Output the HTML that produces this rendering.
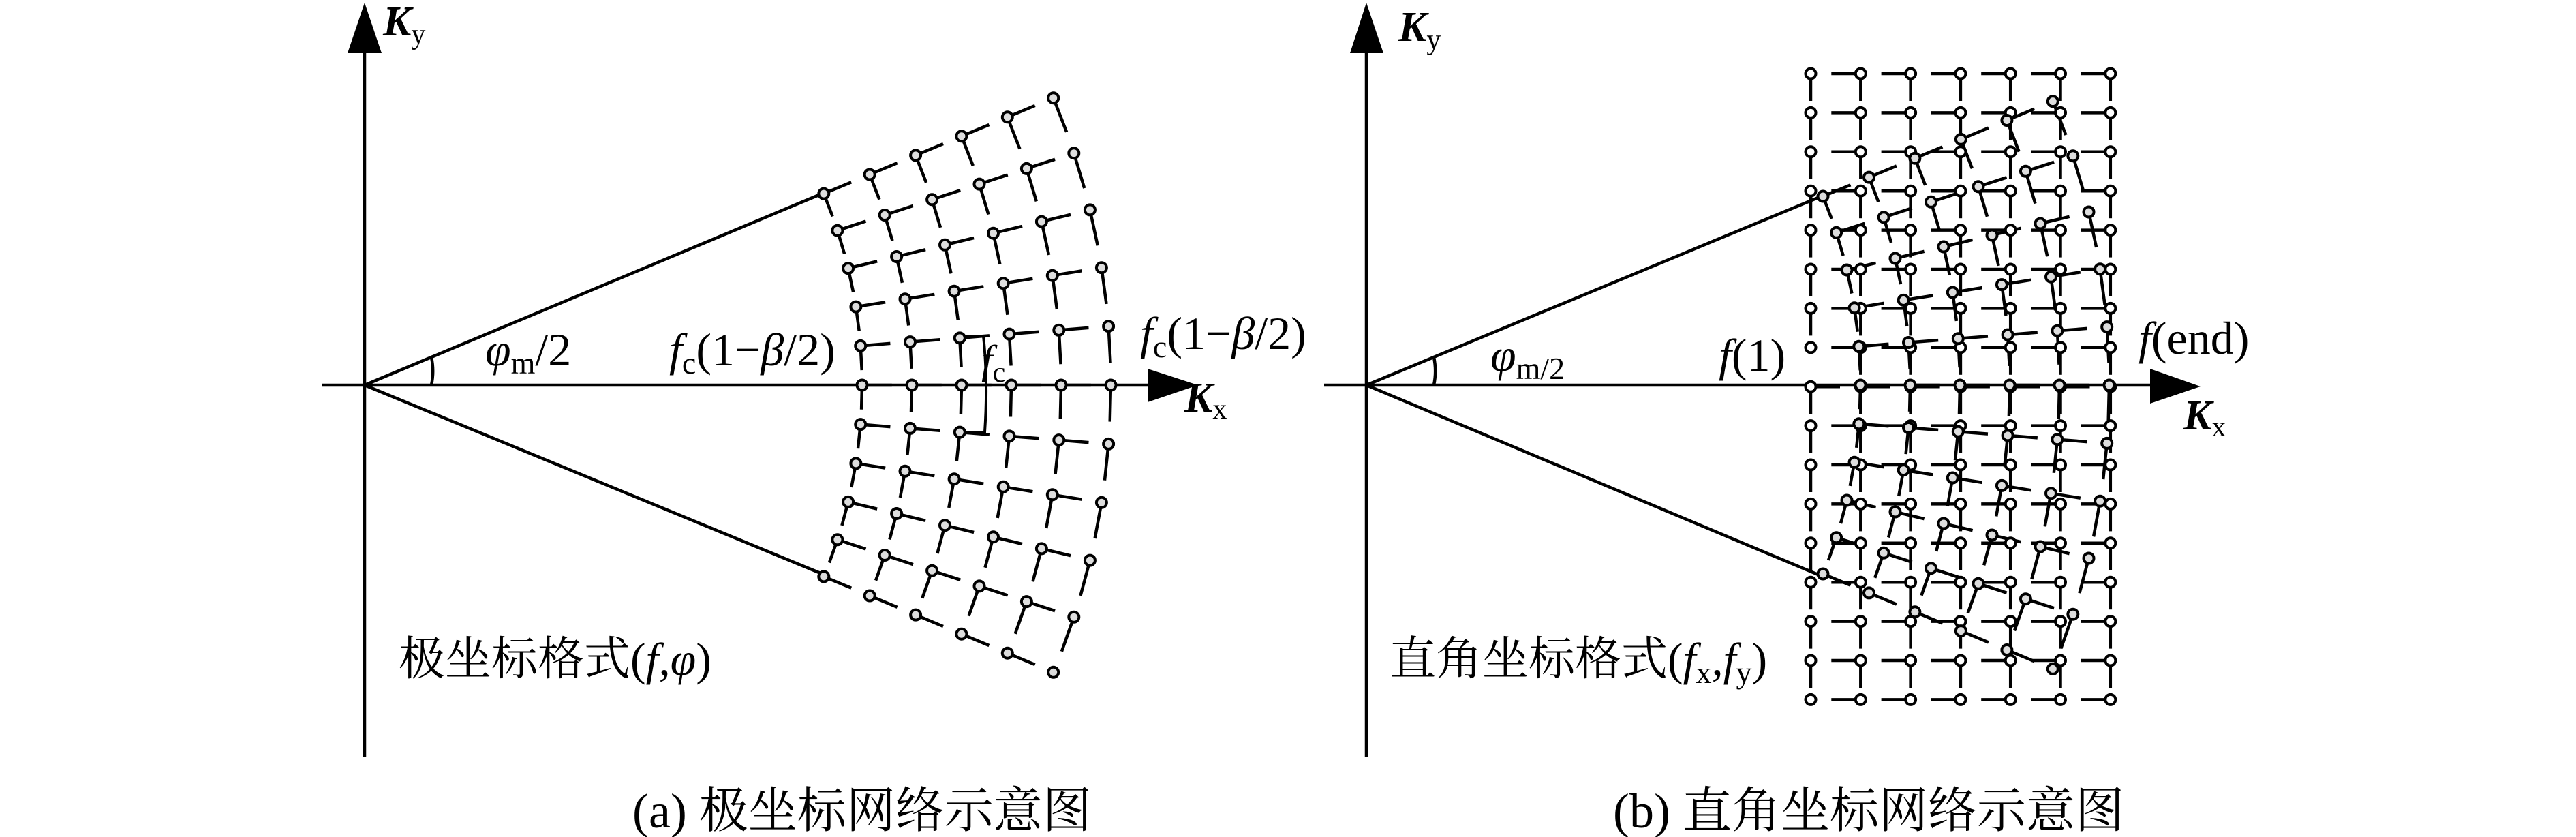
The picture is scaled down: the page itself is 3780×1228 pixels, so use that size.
<!DOCTYPE html>
<html><head><meta charset="utf-8">
<style>
html,body{margin:0;padding:0;background:#fff;}
svg{display:block;}
text{font-family:"Liberation Serif","Noto Serif CJK SC","Noto Sans CJK SC",serif;fill:#000;}
.cjk{font-family:"Noto Serif CJK SC","Noto Sans CJK SC",serif;}
</style></head>
<body>
<svg id="s" width="3780" height="1228" viewBox="0 0 3780 1228" xmlns="http://www.w3.org/2000/svg">
<g stroke="#000" stroke-width="4.5" fill="none">
  <line x1="535" y1="76" x2="535" y2="1110"/>
  <line x1="473" y1="565" x2="1690" y2="565"/>
  <line x1="535" y1="565" x2="1209" y2="283"/>
  <line x1="535" y1="565" x2="1209" y2="843"/>
  <path d="M 633 524 A 98 98 0 0 1 633 565"/>
  <line x1="2005" y1="76" x2="2005" y2="1110"/>
  <line x1="1943" y1="565" x2="3160" y2="565"/>
  <line x1="2005" y1="565" x2="2675" y2="287"/>
  <line x1="2005" y1="565" x2="2675" y2="846"/>
  <path d="M 2104 524 A 99 99 0 0 1 2104 565"/>
  <path d="M 1411 494 L 1443 493 Q 1450 560 1445 634 L 1411 634" stroke-width="4"/>
</g>
<g fill="#000">
  <polygon points="535,4 510,78 560,78"/>
  <polygon points="2005,4 1981,78 2030,78"/>
  <polygon points="1758,565 1684,541 1684,590"/>
  <polygon points="3229,567 3155,541 3155,592"/>
</g>
<g id="grids"></g>

<text x="562" y="52" font-size="62" font-weight="bold" font-style="italic">K<tspan font-size="42" font-weight="normal" font-style="normal" dy="12">y</tspan></text>
<text x="2052" y="60" font-size="62" font-weight="bold" font-style="italic">K<tspan font-size="42" font-weight="normal" font-style="normal" dy="12">y</tspan></text>
<text x="1738" y="604" font-size="62" font-weight="bold" font-style="italic">K<tspan font-size="42" font-weight="normal" font-style="normal" dy="10">x</tspan></text>
<text x="3204" y="630" font-size="62" font-weight="bold" font-style="italic">K<tspan font-size="42" font-weight="normal" font-style="normal" dy="10">x</tspan></text>

<text x="712" y="536" font-size="68"><tspan font-style="italic">φ</tspan><tspan font-size="46" dy="12">m</tspan><tspan dy="-12">/2</tspan></text>
<text x="982" y="536" font-size="68"><tspan font-style="italic">f</tspan><tspan font-size="46" dy="12">c</tspan><tspan dy="-12">(1−</tspan><tspan font-style="italic">β</tspan>/2)</text>
<text x="1440" y="548" font-size="60"><tspan font-style="italic">f</tspan><tspan font-size="42" dy="12">c</tspan></text>
<text x="1673" y="512" font-size="68"><tspan font-style="italic">f</tspan><tspan font-size="46" dy="12">c</tspan><tspan dy="-12">(1−</tspan><tspan font-style="italic">β</tspan>/2)</text>
<text x="585" y="990" font-size="68"><tspan class="cjk">极坐标格式</tspan>(<tspan font-style="italic">f</tspan>,<tspan font-style="italic">φ</tspan>)</text>
<text x="928" y="1214" font-size="72">(a) <tspan class="cjk">极坐标网络示意图</tspan></text>

<text x="2187" y="544" font-size="68"><tspan font-style="italic">φ</tspan><tspan font-size="46" dy="12">m/2</tspan></text>
<text x="2522" y="544" font-size="68"><tspan font-style="italic">f</tspan>(1)</text>
<text x="3138" y="519" font-size="68"><tspan font-style="italic">f</tspan>(end)</text>
<text x="2039" y="990" font-size="68"><tspan class="cjk">直角坐标格式</tspan>(<tspan font-style="italic">f</tspan><tspan font-size="46" dy="12">x</tspan><tspan dy="-12">,</tspan><tspan font-style="italic">f</tspan><tspan font-size="46" dy="12">y</tspan><tspan dy="-12">)</tspan></text>
<text x="2367" y="1214" font-size="72">(b) <tspan class="cjk">直角坐标网络示意图</tspan></text>
</svg>
<script>
(function(){
var g=document.getElementById('grids');
var lines='',circs='';
function L(a,b,c,d){lines+='<line x1="'+a.toFixed(1)+'" y1="'+b.toFixed(1)+'" x2="'+c.toFixed(1)+'" y2="'+d.toFixed(1)+'"/>';}
function C(x,y,f){circs+='<circle cx="'+x.toFixed(1)+'" cy="'+y.toFixed(1)+'" r="7.5" fill="'+f+'"/>';}
for(var i=0;i<7;i++){for(var j=0;j<17;j++){
  var x=2657+73.3*i,y=108+57.4*j;
  if(j==8){ if(i<6)L(x,y,x+43,y); }
  else if(i>0)L(x-43,y,x,y);
  if(j<16 && !(i==0&&j==7))L(x,y,x,y+40);
  C(x,y,'#fff');
}}
function polar(ox,oy,r0,dr,tmax){
  var n=11,dt=2*tmax/(n-1);
  for(var k=0;k<6;k++){for(var a=0;a<n;a++){
    var r=r0+dr*k,t=(tmax-dt*a)*Math.PI/180;
    var x=ox+r*Math.cos(t),y=oy-r*Math.sin(t);
    if(k<5){var r2=r+0.6*dr;L(x,y,ox+r2*Math.cos(t),oy-r2*Math.sin(t));}
    if(a<n-1){var t2=t-0.62*dt*Math.PI/180;L(x,y,ox+r*Math.cos(t2),oy-r*Math.sin(t2));}
    C(x,y,'#ddd');
  }}
}
polar(535,565,730,73,22.63);
polar(2005,565,725,73,22.46);
g.innerHTML='<g stroke="#000" stroke-width="4.5">'+lines+'</g><g stroke="#000" stroke-width="4">'+circs+'</g>';
})();
</script>
</body></html>
